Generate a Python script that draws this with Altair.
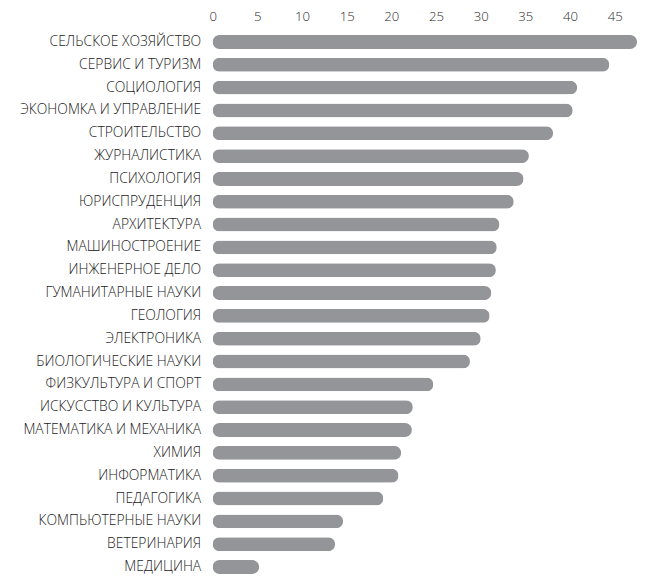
import altair as alt
import pandas as pd

categories = [
    "СЕЛЬСКОЕ ХОЗЯЙСТВО", "СЕРВИС И ТУРИЗМ", "СОЦИОЛОГИЯ", "ЭКОНОМКА И УПРАВЛЕНИЕ",
    "СТРОИТЕЛЬСТВО", "ЖУРНАЛИСТИКА", "ПСИХОЛОГИЯ", "ЮРИСПРУДЕНЦИЯ", "АРХИТЕКТУРА",
    "МАШИНОСТРОЕНИЕ", "ИНЖЕНЕРНОЕ ДЕЛО", "ГУМАНИТАРНЫЕ НАУКИ", "ГЕОЛОГИЯ",
    "ЭЛЕКТРОНИКА", "БИОЛОГИЧЕСКИЕ НАУКИ", "ФИЗКУЛЬТУРА И СПОРТ", "ИСКУССТВО И КУЛЬТУРА",
    "МАТЕМАТИКА И МЕХАНИКА", "ХИМИЯ", "ИНФОРМАТИКА", "ПЕДАГОГИКА",
    "КОМПЬЮТЕРНЫЕ НАУКИ", "ВЕТЕРИНАРИЯ", "МЕДИЦИНА",
]
values = [
    47.5, 44.4, 40.8, 40.3, 38.1, 35.4, 34.8, 33.7, 32.1, 31.8, 31.7, 31.2,
    31.0, 30.0, 28.8, 24.7, 22.4, 22.3, 21.1, 20.8, 19.1, 14.6, 13.7, 5.2,
]
x_ticks = [0, 5, 10, 15, 20, 25, 30, 35, 40, 45]

df = pd.DataFrame({"category": categories, "value": values})

chart = alt.Chart(df).mark_bar(
    color="#939598", cornerRadius=7
).encode(
    x=alt.X("value:Q",
            scale=alt.Scale(domain=[0, 47.5], nice=False, zero=True),
            axis=alt.Axis(orient="top", values=x_ticks, title=None, domain=False,
                          ticks=False, grid=False, labelPadding=7,
                          labelFontSize=13.2, labelColor="#2a2a2a",
                          labelFont="Open Sans", labelFontWeight=300,
                          labelFlush=False)),
    y=alt.Y("category:N", sort=categories,
            scale=alt.Scale(paddingInner=0.39, paddingOuter=0.2),
            axis=alt.Axis(title=None, domain=False, ticks=False, grid=False,
                          labelPadding=12, labelFontSize=13.9,
                          labelColor="#222222", labelFont="Open Sans",
                          labelFontWeight=300, labelLimit=300)),
).properties(
    width=425, height=549,
    autosize=alt.AutoSizeParams(type="none"),
    padding={"left": 205, "top": 22, "right": 0, "bottom": 0},
).configure_view(stroke=None)

chart.save("out.html", embed_options={"renderer": "svg", "actions": False})
